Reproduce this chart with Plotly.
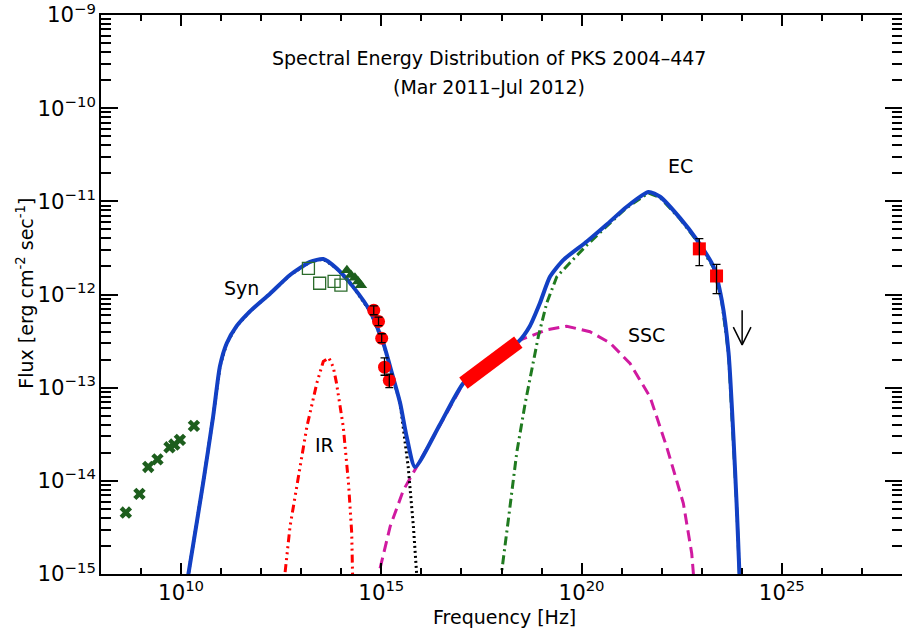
import numpy as np
import plotly.graph_objects as go

# ---------------- data ----------------
# total model (blue)
total_nu = [1.17e10, 1.51e10, 3.55e10, 6.31e10, 9.33e10, 1.38e11, 2.45e11, 5.25e11, 1.66e12,
            5.25e12, 1.66e13, 3.55e13, 7.59e13, 2.0e14, 5.25e14, 1.12e15, 1.82e15, 2.95e15,
            4.27e15, 6.92e15, 2.88e16, 1.12e17, 5.13e17, 2.63e18, 5.13e18, 9.12e18, 1.62e19,
            3.47e19, 1.35e20, 4.17e20, 1.32e21, 4.68e21, 9.12e21, 2.88e22, 7.41e22, 1.95e23,
            3.16e23, 4.68e23, 6.17e23, 7.41e23, 8.71e23, 9.5e23]
total_flux = [5.0e-16, 9.8e-16, 9.5e-15, 4.9e-14, 1.7e-13, 3.0e-13, 4.6e-13, 6.6e-13, 1.02e-12,
              1.62e-12, 2.24e-12, 2.40e-12, 1.91e-12, 1.20e-12, 6.6e-13, 3.0e-13, 1.45e-13, 6.8e-14,
              3.0e-14, 1.41e-14, 4.0e-14, 1.12e-13, 1.86e-13, 3.1e-13, 4.6e-13, 8.1e-13, 1.55e-12,
              2.34e-12, 3.7e-12, 5.6e-12, 8.7e-12, 1.26e-11, 1.12e-11, 6.6e-12, 3.9e-12, 2.0e-12,
              8.7e-13, 2.34e-13, 3.0e-14, 5.75e-15, 1.02e-15, 3.0e-16]

# synchrotron component (black dotted)
syn_nu = [1.17e10, 1.51e10, 3.55e10, 6.31e10, 9.33e10, 1.38e11, 2.45e11, 5.25e11, 1.66e12,
          5.25e12, 1.66e13, 3.55e13, 7.59e13, 2.0e14, 5.25e14, 1.12e15, 1.82e15, 2.95e15,
          4.68e15, 6.31e15, 7.59e15, 8.32e15]
syn_flux = [5.0e-16, 9.8e-16, 9.5e-15, 4.9e-14, 1.7e-13, 3.0e-13, 4.6e-13, 6.6e-13, 1.02e-12,
            1.62e-12, 2.24e-12, 2.40e-12, 1.91e-12, 1.20e-12, 6.6e-13, 3.0e-13, 1.45e-13, 6.8e-14,
            1.41e-14, 3.24e-15, 1.02e-15, 5.0e-16]

# IR torus (red dash-dot-dot-dot)
ir_nu = [3.55e12, 3.89e12, 5.25e12, 8.51e12, 1.38e13, 2.45e13, 3.55e13, 4.9e13, 6.31e13,
         7.59e13, 1.12e14, 1.51e14, 1.82e14, 1.91e14, 2.0e14]
ir_flux = [5.0e-16, 9.8e-16, 3.24e-15, 1.12e-14, 3.8e-14, 1.12e-13, 1.91e-13, 2.09e-13, 1.66e-13,
           1.12e-13, 3.8e-14, 9.55e-15, 2.75e-15, 9.8e-16, 5.0e-16]

# SSC (magenta dashed)
ssc_nu = [7.08e14, 8.51e14, 1.66e15, 3.55e15, 7.59e15, 2.88e16, 1.12e17, 5.13e17, 2.88e18,
          1.35e19, 4.27e19, 1.62e20, 5.13e20, 1.62e21, 5.13e21, 1.32e22, 3.47e22, 5.62e22,
          6.17e22, 6.46e22]
ssc_flux = [5.0e-16, 9.8e-16, 3.24e-15, 7.94e-15, 1.41e-14, 3.98e-14, 1.12e-13, 1.86e-13, 3.24e-13,
            4.17e-13, 4.57e-13, 3.98e-13, 3.02e-13, 1.82e-13, 7.94e-14, 2.34e-14, 5.75e-15, 1.66e-15,
            1.02e-15, 5.0e-16]

# EC (green dash-dot)
ec_nu = [8.91e17, 1.0e18, 1.48e18, 2.4e18, 3.89e18, 5.62e18, 8.32e18, 1.35e19, 2.4e19, 5.13e19,
         1.35e20, 4.17e20, 1.32e21, 4.68e21, 9.12e21, 2.88e22, 7.41e22, 1.95e23, 3.16e23,
         4.68e23, 6.17e23, 7.41e23, 8.71e23, 9.55e23]
ec_flux = [5.0e-16, 1.02e-15, 3.8e-15, 2.0e-14, 6.76e-14, 1.55e-13, 3.55e-13, 8.13e-13, 1.55e-12,
           2.19e-12, 3.39e-12, 5.37e-12, 8.51e-12, 1.23e-11, 1.10e-11, 6.46e-12, 3.8e-12, 1.95e-12,
           8.51e-13, 2.29e-13, 2.95e-14, 5.62e-15, 1.0e-15, 3.16e-16]

# radio data (green crosses)
radio_nu = [4.17e8, 9.12e8, 1.51e9, 2.57e9, 5.13e9, 6.76e9, 9.33e9, 2.09e10]
radio_flux = [4.57e-15, 7.24e-15, 1.41e-14, 1.70e-14, 2.29e-14, 2.45e-14, 2.75e-14, 3.89e-14]

# IR/optical archival (open green squares)
opt_nu = [1.51e13, 2.88e13, 6.61e13, 9.77e13]
opt_flux = [1.91e-12, 1.32e-12, 1.38e-12, 1.26e-12]

# optical (filled green triangles)
tri_nu = [1.38e14, 1.74e14, 2.19e14, 2.63e14, 3.09e14]
tri_flux = [1.82e-12, 1.62e-12, 1.51e-12, 1.38e-12, 1.26e-12]

# UV (red circles with error bars)
uv_nu = [6.46e14, 8.51e14, 1.02e15, 1.20e15, 1.58e15]
uv_flux = [6.76e-13, 5.13e-13, 3.39e-13, 1.66e-13, 1.20e-13]
uv_err_hi = [0.8e-13, 0.6e-13, 0.4e-13, 0.43e-13, 0.2e-13]
uv_err_lo = [0.7e-13, 0.5e-13, 0.35e-13, 0.3e-13, 0.2e-13]

# X-ray bowtie (red)
xray_nu = [1.12e17, 2.63e18]
xray_flux = [1.12e-13, 3.09e-13]

# gamma-ray (red squares with error bars)
lat_nu = [8.71e22, 2.34e23]
lat_flux = [3.09e-12, 1.58e-12]
lat_err_hi = [0.89e-12, 0.53e-12]
lat_err_lo = [1.05e-12, 0.56e-12]

# upper limit
ul_nu = 1.02e24
ul_top = 6.76e-13
ul_flux = 2.88e-13

BLUE = "rgb(18,64,196)"
DKGREEN = "#1d5e1d"

fig = go.Figure()

fig.add_trace(go.Scatter(x=ir_nu, y=ir_flux, mode="lines",
                         line=dict(color="#ff0000", width=3, dash="8px,4px,2px,4px,2px,4px,2px,4px")))
fig.add_trace(go.Scatter(x=ssc_nu, y=ssc_flux, mode="lines",
                         line=dict(color="#d01aa0", width=3, dash="11px,6px")))
fig.add_trace(go.Scatter(x=ec_nu, y=ec_flux, mode="lines",
                         line=dict(color="#1f7a1f", width=3, dash="9px,4px,2px,4px")))
fig.add_trace(go.Scatter(x=syn_nu, y=syn_flux, mode="lines",
                         line=dict(color="black", width=3, dash="2px,3px")))
fig.add_trace(go.Scatter(x=total_nu, y=total_flux, mode="lines",
                         line=dict(color=BLUE, width=4, shape="spline", smoothing=0.6)))

# X-ray bowtie
fig.add_trace(go.Scatter(x=xray_nu, y=xray_flux, mode="lines",
                         line=dict(color="#ff0000", width=14)))

# data points
fig.add_trace(go.Scatter(x=radio_nu, y=radio_flux, mode="markers",
                         marker=dict(symbol="x", size=11, color=DKGREEN, line=dict(width=0))))
fig.add_trace(go.Scatter(x=opt_nu, y=opt_flux, mode="markers",
                         marker=dict(symbol="square-open", size=12, color="#2b6b2b",
                                     line=dict(width=1.3, color="#2b6b2b"))))
fig.add_trace(go.Scatter(x=tri_nu, y=tri_flux, mode="markers",
                         marker=dict(symbol="triangle-up", size=11, color=DKGREEN)))
fig.add_trace(go.Scatter(x=uv_nu, y=uv_flux, mode="markers",
                         marker=dict(symbol="circle", size=13, color="#ff0000")))
fig.add_trace(go.Scatter(x=lat_nu, y=lat_flux, mode="markers",
                         marker=dict(symbol="square", size=13, color="#ff0000")))
# error bars drawn on top of the filled symbols
fig.add_trace(go.Scatter(x=uv_nu, y=uv_flux, mode="markers",
                         marker=dict(size=1, color="rgba(0,0,0,0)"),
                         error_y=dict(type="data", array=uv_err_hi, arrayminus=uv_err_lo,
                                      color="black", thickness=1.3, width=4)))
fig.add_trace(go.Scatter(x=lat_nu, y=lat_flux, mode="markers",
                         marker=dict(size=1, color="rgba(0,0,0,0)"),
                         error_y=dict(type="data", array=lat_err_hi, arrayminus=lat_err_lo,
                                      color="black", thickness=1.3, width=4)))

# upper limit arrow (shaft + V head, drawn relative to the limit value)
hx = 10 ** 0.22
hy = 10 ** 0.19
fig.add_trace(go.Scatter(
    x=[ul_nu, ul_nu, None, ul_nu / hx, ul_nu, ul_nu * hx],
    y=[ul_top, ul_flux, None, ul_flux * hy, ul_flux, ul_flux * hy],
    mode="lines", line=dict(color="black", width=1.5)))

FONT = "DejaVu Sans"
labels = [("Syn", 11.5, -11.93), ("IR", 13.57, -13.61), ("EC", 22.48, -10.62), ("SSC", 21.63, -12.44)]
annotations = []
for txt, lx, ly in labels:
    annotations.append(dict(text=txt, x=lx, y=ly, xref="x", yref="y", showarrow=False,
                            font=dict(family=FONT, size=19, color="black")))

annotations += [
    dict(text="Spectral Energy Distribution of PKS 2004\u2013447", x=0.4844, y=0.923,
         xref="paper", yref="paper", showarrow=False, xanchor="center", yanchor="middle",
         font=dict(family=FONT, size=19, color="black")),
    dict(text="(Mar 2011\u2013Jul 2012)", x=0.4844, y=0.871,
         xref="paper", yref="paper", showarrow=False, xanchor="center", yanchor="middle",
         font=dict(family=FONT, size=19, color="black")),
    dict(text="Frequency [Hz]", x=0.504, y=-0.077, xref="paper", yref="paper",
         showarrow=False, xanchor="center", yanchor="middle",
         font=dict(family=FONT, size=19, color="black")),
    dict(text="Flux [erg cm<sup>-2</sup> sec<sup>-1</sup>]", x=-0.095, y=0.503,
         xref="paper", yref="paper", showarrow=False, textangle=-90,
         xanchor="center", yanchor="middle",
         font=dict(family=FONT, size=19, color="black")),
]

fig.update_layout(
    width=902, height=631,
    margin=dict(l=101, r=0, t=15, b=57, autoexpand=False),
    paper_bgcolor="white", plot_bgcolor="white",
    showlegend=False,
    font=dict(family=FONT, size=16, color="black"),
    annotations=annotations,
)

fig.update_xaxes(type="log", range=[8, 28], dtick=5, tick0=0,
                 ticks="inside", ticklen=11, tickwidth=1.5, tickcolor="black",
                 showline=True, linecolor="black", linewidth=1.5, mirror="allticks",
                 showgrid=False, zeroline=False, exponentformat="power",
                 ticklabeloverflow="allow",
                 tickfont=dict(family=FONT, size=17, color="black"),
                 minor=dict(dtick=1, tick0=0, ticks="inside", ticklen=6, tickwidth=1.5,
                            tickcolor="black", showgrid=False))
fig.update_yaxes(type="log", range=[-15, -9], dtick=1,
                 ticks="inside", ticklen=17, tickwidth=1.5, tickcolor="black",
                 showline=True, linecolor="black", linewidth=1.5, mirror="allticks",
                 showgrid=False, zeroline=False, exponentformat="power",
                 ticklabeloverflow="allow",
                 tickfont=dict(family=FONT, size=17, color="black"),
                 minor=dict(dtick="D1", ticks="inside", ticklen=10, tickwidth=1.5,
                            tickcolor="black", showgrid=False))

# remove the default page margin so the figure sits at the window's top-left corner
fig.write_html("out.html",
               config={"displayModeBar": False},
               post_script="document.body.style.margin='0';document.body.style.overflow='hidden';")
